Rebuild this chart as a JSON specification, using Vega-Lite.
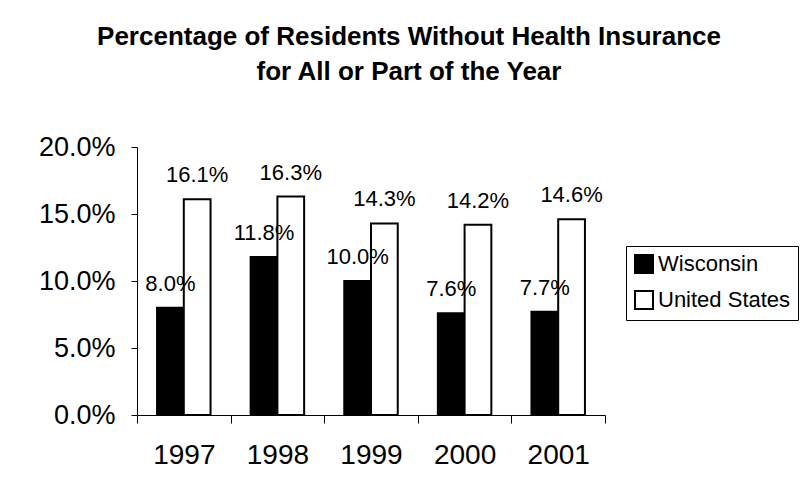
{
  "$schema": "https://vega.github.io/schema/vega-lite/v6.json",
  "width": 468,
  "height": 268,
  "autosize": "none",
  "padding": {"left": 137, "top": 147, "right": 200, "bottom": 84},
  "background": "white",
  "title": {
    "text": ["Percentage of Residents Without Health Insurance", "for All or Part of the Year"],
    "font": "Liberation Sans",
    "fontSize": 26,
    "fontWeight": "bold",
    "color": "black",
    "lineHeight": 35,
    "anchor": "middle",
    "baseline": "alphabetic",
    "offset": 27,
    "dx": 38
  },
  "data": {
    "values": [
      {"year": "1997", "area": "Wisconsin", "pct": 0.080},
      {"year": "1997", "area": "United States", "pct": 0.161},
      {"year": "1998", "area": "Wisconsin", "pct": 0.118},
      {"year": "1998", "area": "United States", "pct": 0.163},
      {"year": "1999", "area": "Wisconsin", "pct": 0.100},
      {"year": "1999", "area": "United States", "pct": 0.143},
      {"year": "2000", "area": "Wisconsin", "pct": 0.076},
      {"year": "2000", "area": "United States", "pct": 0.142},
      {"year": "2001", "area": "Wisconsin", "pct": 0.077},
      {"year": "2001", "area": "United States", "pct": 0.146}
    ]
  },
  "encoding": {
    "x": {
      "field": "year",
      "type": "nominal",
      "scale": {"paddingInner": 0, "paddingOuter": 0},
      "axis": {
        "title": null,
        "labelAngle": 0,
        "labelFont": "Liberation Sans",
        "labelFontSize": 28,
        "labelColor": "black",
        "labelPadding": 18,
        "tickBand": "extent",
        "tickSize": 8,
        "tickColor": "black",
        "domainColor": "black",
        "grid": false
      }
    },
    "xOffset": {
      "field": "area",
      "type": "nominal",
      "sort": ["Wisconsin", "United States"],
      "scale": {"paddingInner": 0, "paddingOuter": 0.75}
    },
    "y": {
      "field": "pct",
      "type": "quantitative",
      "scale": {"domain": [0, 0.2], "nice": false},
      "axis": {
        "title": null,
        "values": [0, 0.05, 0.1, 0.15, 0.2],
        "format": ".1%",
        "labelFont": "Liberation Sans",
        "labelFontSize": 27,
        "labelColor": "black",
        "labelPadding": 16,
        "tickSize": 6,
        "tickColor": "black",
        "domainColor": "black",
        "grid": false
      }
    }
  },
  "layer": [
    {
      "mark": {"type": "bar", "stroke": "black", "strokeWidth": 2},
      "encoding": {
        "color": {
          "field": "area",
          "type": "nominal",
          "scale": {"domain": ["Wisconsin", "United States"], "range": ["black", "white"]},
          "legend": {
            "title": null,
            "orient": "none",
            "legendX": 489,
            "legendY": 99,
            "symbolType": "square",
            "symbolSize": 324,
            "symbolStrokeColor": "black",
            "symbolStrokeWidth": 2,
            "labelFont": "Liberation Sans",
            "labelFontSize": 22,
            "labelColor": "black",
            "labelOffset": 3,
            "rowPadding": 10,
            "padding": 7,
            "strokeColor": "black",
            "fillColor": "white"
          }
        }
      }
    },
    {
      "mark": {
        "type": "text",
        "font": "Liberation Sans",
        "fontSize": 22,
        "color": "black",
        "baseline": "alphabetic",
        "dy": -17
      },
      "encoding": {
        "text": {"field": "pct", "type": "quantitative", "format": ".1%"}
      }
    }
  ],
  "config": {
    "view": {"stroke": null}
  }
}
